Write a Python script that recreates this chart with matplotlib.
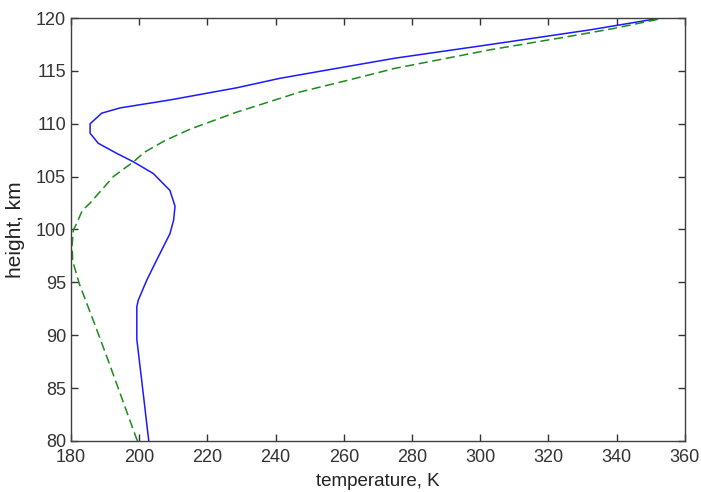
import matplotlib
matplotlib.use('Agg')
import matplotlib.pyplot as plt

plt.rc('font', family=['Liberation Sans', 'DejaVu Sans'], size=13)

# blue solid profile (height km, temperature K)
h_blue = [80.0, 85.8, 89.6, 92.7, 93.3, 95.2, 97.1, 99.6, 100.9, 102.2, 103.7, 105.3,
          106.4, 107.2, 108.15, 109.1, 110.0, 111.0, 111.5, 112.25, 113.4, 114.3,
          115.3, 116.2, 117.45, 118.87, 120.0]
t_blue = [202.8, 200.7, 199.3, 199.3, 199.7, 202.2, 205.1, 209.0, 210.1, 210.5, 209.0, 204.1,
          198.3, 193.4, 188.0, 185.6, 185.6, 189.0, 194.4, 209.0, 228.6, 241.3,
          259.0, 275.0, 302.0, 332.0, 353.0]

# green dashed profile
h_green = [80.0, 80.4, 84.5, 87.7, 91.0, 94.8, 97.0, 98.5, 99.95, 100.6, 101.8, 102.5,
           105.0, 106.4, 107.3, 108.4, 109.5, 111.1, 112.4, 113.0, 114.1, 115.24,
           117.0, 118.2, 119.0, 120.0]
t_green = [199.5, 199.0, 194.4, 190.8, 187.0, 182.5, 180.5, 180.3, 180.7, 181.7, 183.3, 185.6,
           192.4, 198.3, 201.5, 207.5, 215.0, 228.6, 241.3, 247.1, 261.0, 275.0,
           303.0, 325.0, 339.0, 354.0]

xticks = list(range(180, 361, 20))
yticks = list(range(80, 121, 5))

fig = plt.figure(figsize=(7.01, 4.92), dpi=100)
ax = fig.add_axes([0.1013, 0.1037, 0.8757, 0.8597])

ax.plot(t_blue, h_blue, color='#1a1aff', linewidth=1.1)
ax.plot(t_green, h_green, color='#1a8c1a', linewidth=1.1, linestyle=(0, (6, 3)))

ax.set_xlim(180, 360)
ax.set_ylim(80, 120)
ax.set_xticks(xticks)
ax.set_yticks(yticks)
ax.tick_params(direction='in', length=5, width=1.0, top=True, right=True,
               colors='#333333', labelsize=13)
ax.tick_params(axis='y', pad=3.5)
ax.tick_params(axis='x', pad=5.5)
for s in ax.spines.values():
    s.set_color('#404040')
    s.set_linewidth(1.0)

ax.set_xlabel('temperature, K', fontsize=13.5, color='#222222', labelpad=5)
ax.set_ylabel('height, km', fontsize=15, color='#222222', labelpad=8)

fig.savefig('out.png', dpi=100)
